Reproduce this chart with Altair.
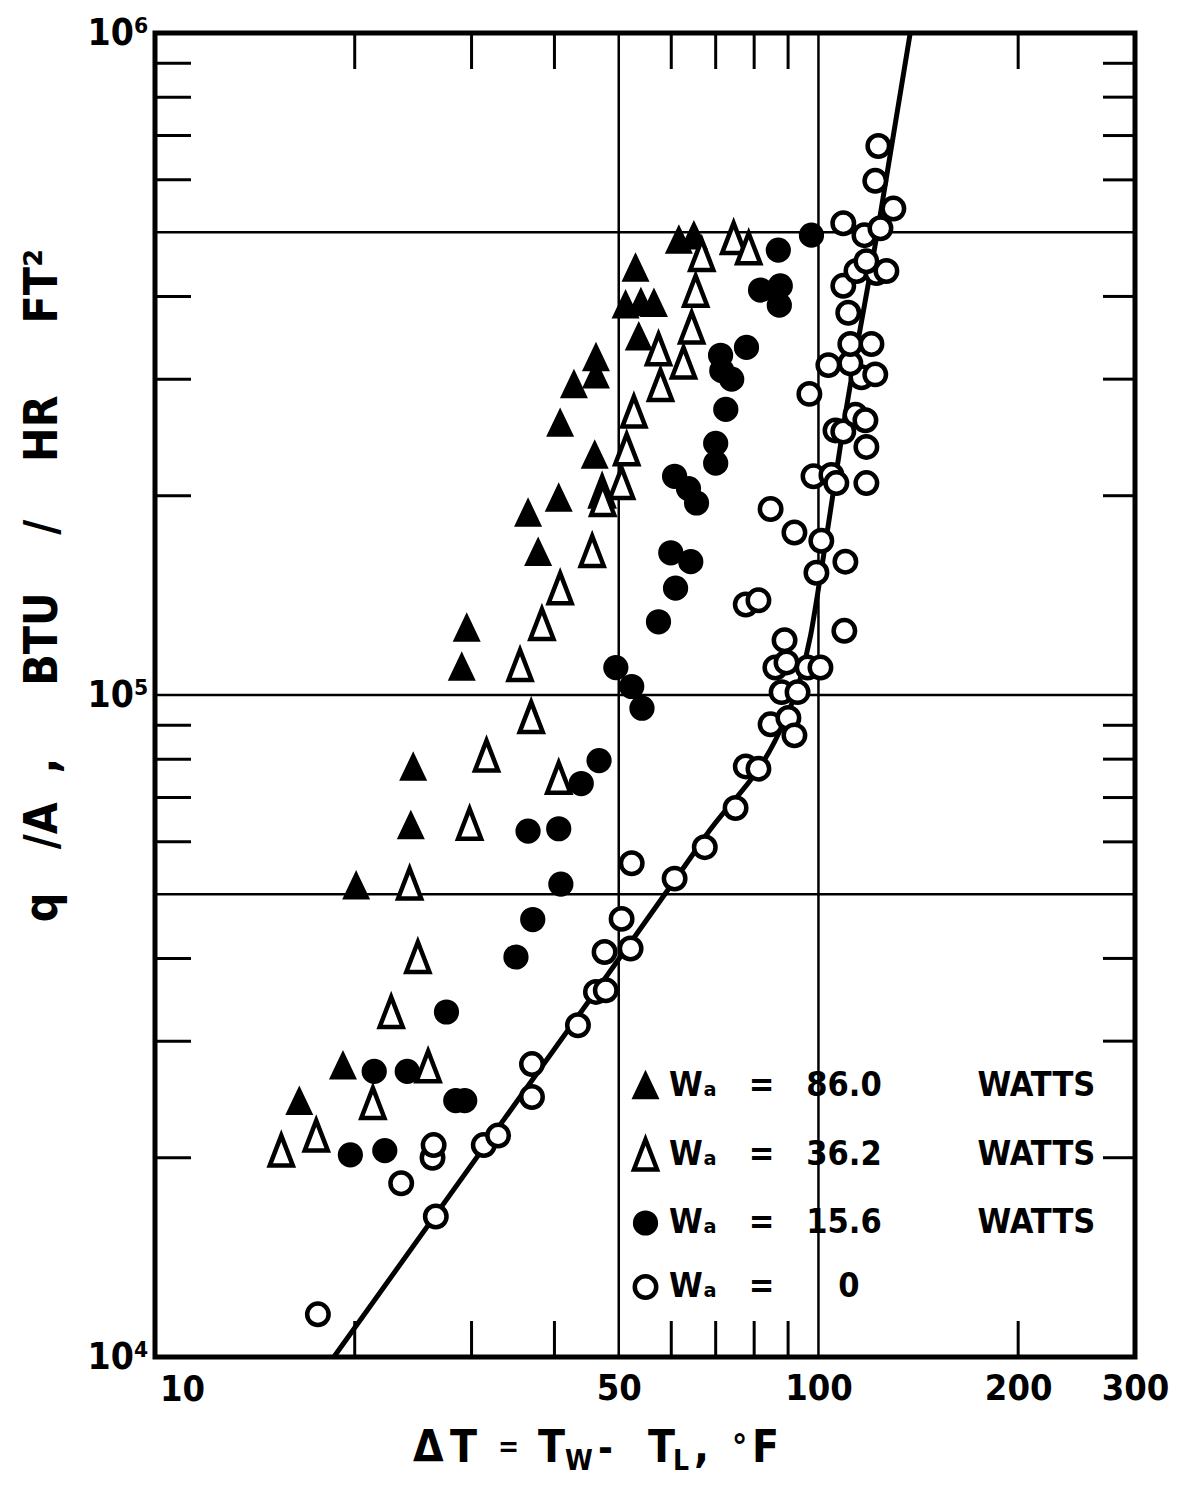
import altair as alt
import pandas as pd

# ---------------- data ----------------
# W_A = 86.0 W  (filled triangles)
dt_86 = [16.5, 19.2, 20.1, 24.3, 24.5, 29.0, 29.5, 36.5, 37.8, 40.6, 40.8, 42.8, 46.2, 46.2,
         46.0, 53.0, 51.2, 54.0, 56.5, 53.6, 61.6, 64.9]
q_86 = [24300, 27500, 51400, 63400, 77700, 110000, 126000, 188000, 164000, 198000, 257000,
        294000, 323000, 304000, 230000, 441000, 388000, 391000, 390000, 347000, 486000, 493000]
# W_A = 36.2 W  (open triangles)
dt_36 = [15.5, 17.5, 21.3, 25.8, 22.7, 24.9, 24.2, 29.8, 31.6, 40.6, 36.9, 35.5, 38.3, 40.8,
         45.6, 47.2, 47.3, 50.5, 51.4, 52.7, 57.8, 57.4, 62.6, 64.4, 65.3, 66.7, 74.5, 78.5]
q_36 = [20500, 21600, 24200, 27500, 33200, 40200, 51900, 63900, 81000, 75000, 92600, 111000,
        128000, 145000, 165000, 203000, 197000, 209000, 235000, 268000, 294000, 333000, 318000,
        359000, 408000, 462000, 490000, 473000]
# W_A = 15.6 W  (filled circles)
dt_15 = [19.7, 22.2, 21.4, 24.0, 28.4, 29.3, 27.5, 35.0, 37.1, 40.9, 36.5, 40.6, 43.9, 46.7,
         49.5, 52.3, 54.2, 57.4, 60.9, 59.9, 64.2, 60.7, 63.7, 65.5, 70.0, 70.0, 72.5, 71.2,
         71.5, 74.0, 77.9, 81.8, 87.6, 87.3, 87.0, 97.6]
q_15 = [20200, 20500, 27000, 27000, 24400, 24400, 33200, 40200, 45800, 51800, 62300, 62800,
        73500, 79600, 110000, 103000, 95500, 129000, 145000, 164000, 159000, 214000, 205000,
        195000, 240000, 224000, 270000, 326000, 309000, 300000, 335000, 409000, 415000, 388000,
        470000, 495000]
# W_A = 0  (open circles)
dt_0 = [17.6, 26.5, 23.5, 26.2, 26.3, 31.3, 32.9, 37.0, 37.0, 43.4, 46.2, 47.8, 47.6, 52.1,
        50.5, 52.3, 60.7, 67.4, 75.0, 77.7, 81.2, 84.7, 90.1, 92.0, 88.0, 93.0, 86.1, 89.5,
        96.3, 100.7, 88.9, 109.4, 77.7, 81.2, 99.3, 109.8, 101.0, 92.0, 84.7, 98.3, 104.6,
        106.4, 118.1, 118.1, 106.1, 109.0, 113.7, 117.7, 96.9, 116.1, 121.8, 103.5, 111.7,
        111.7, 120.2, 110.9, 109.0, 114.1, 122.3, 126.6, 118.1, 117.3, 124.0, 109.0, 129.7,
        121.8, 123.1]
q_0 = [11600, 16300, 18300, 20000, 20900, 20900, 21600, 24700, 27700, 31700, 35600, 35800,
       40900, 41400, 45900, 55700, 52800, 58900, 67500, 78000, 77400, 90300, 92300, 86900,
       101000, 101000, 110000, 112000, 110000, 110000, 121000, 125000, 137000, 139000, 153000,
       159000, 171000, 176000, 191000, 214000, 215000, 209000, 209000, 237000, 251000, 250000,
       265000, 260000, 285000, 302000, 305000, 315000, 317000, 339000, 339000, 378000, 415000,
       437000, 434000, 437000, 452000, 495000, 507000, 516000, 543000, 598000, 675000]
# curve drawn through the W_A = 0 data
line_dt = [18.6, 45.5, 67.6, 89.2, 93.3, 97.3, 100.7, 109.0, 123.1, 137.5]
line_q = [10000, 34950, 61240, 92270, 103500, 123000, 151300, 254000, 510000, 1000000]

x_label_vals = [50, 100, 200, 300]   # "10" at the corner is written separately below
y_label_vals = [1e4, 1e5, 1e6]
x_minor = [20, 30, 40, 60, 70, 80, 90, 200]
y_minor = [2e4, 3e4, 4e4, 6e4, 7e4, 8e4, 9e4, 2e5, 3e5, 4e5, 6e5, 7e5, 8e5, 9e5]
x_grid = [50, 100]
y_grid = [5e4, 1e5, 5e5]

NB = "\u00a0"
SUB_A = "\u2090"
series_names = [
    "W" + SUB_A + NB * 3 + "=" + NB * 3 + "86.0" + NB * 9 + "WATTS",
    "W" + SUB_A + NB * 3 + "=" + NB * 3 + "36.2" + NB * 9 + "WATTS",
    "W" + SUB_A + NB * 3 + "=" + NB * 3 + "15.6" + NB * 9 + "WATTS",
    "W" + SUB_A + NB * 3 + "=" + NB * 6 + "0",
]

# ---------------- build tables ----------------
frames = []
for name, xs, ys in zip(series_names, [dt_86, dt_36, dt_15, dt_0], [q_86, q_36, q_15, q_0]):
    frames.append(pd.DataFrame({"dt": xs, "q": ys, "series": name}))
pts_df = pd.concat(frames, ignore_index=True)
line_df = pd.DataFrame({"dt": line_dt, "q": line_q})

# ---------------- styling ----------------
F = "DejaVu Sans Condensed, DejaVu Sans"
W, H = 980, 1324
TICK = 36
xscale = alt.Scale(type="log", domain=[10, 300], nice=False)
yscale = alt.Scale(type="log", domain=[1e4, 1e6], nice=False)

tri_filled = "M0,-1L0.95,1L-0.95,1Z"
tri_open = "M0,-1L0.77,1L-0.77,1Z"
shapes = [tri_filled, tri_open, "circle", "circle"]
fills = ["black", "white", "black", "white"]
strokes = ["black", "black", "black", "black"]
sizes = [484, 900, 430, 460]

leg = alt.Legend(
    title=None, orient="none", legendX=473, legendY=1036, padding=0,
    labelFont=F, labelFontSize=34, labelFontWeight="bold", labelColor="black",
    labelLimit=800, labelOffset=6, rowPadding=24,
    symbolStrokeColor="black", symbolStrokeWidth=4.5, symbolOpacity=1,
)

xaxis = alt.Axis(
    values=x_label_vals, title=None, grid=False, ticks=False, domain=False,
    labelFont=F, labelFontSize=36, labelFontWeight="bold", labelColor="black",
    labelPadding=14, labelFlush=False, labelOverlap=False,
    labelExpr="'' + datum.value",
)
ytitle = ("q" + NB * 3 + "/A" + NB * 2 + "," + NB * 5 + "BTU" + NB * 4 + "/" + NB * 4 + "HR"
          + NB * 5 + "FT\u00b2")
yaxis = alt.Axis(
    values=y_label_vals, grid=False, ticks=False, domain=False,
    labelFont=F, labelFontSize=37, labelFontWeight="bold", labelColor="black",
    labelPadding=7, labelOverlap=False,
    labelExpr="datum.value >= 999999 ? '10\u2076' : (datum.value >= 99999 ? '10\u2075' : '10\u2074')",
    title=ytitle, titleFont=F, titleFontSize=46, titleFontWeight="bold", titleColor="black",
    titleAngle=270, titleX=-113, titleY=552, titleAlign="center", titleBaseline="middle",
)

points = alt.Chart(pts_df).mark_point(
    strokeWidth=4.5, opacity=1, fillOpacity=1, strokeOpacity=1
).encode(
    x=alt.X("dt:Q", scale=xscale, axis=xaxis),
    y=alt.Y("q:Q", scale=yscale, axis=yaxis),
    shape=alt.Shape("series:N", scale=alt.Scale(domain=series_names, range=shapes), legend=leg),
    fill=alt.Fill("series:N", scale=alt.Scale(domain=series_names, range=fills), legend=leg),
    stroke=alt.Stroke("series:N", scale=alt.Scale(domain=series_names, range=strokes), legend=leg),
    size=alt.Size("series:N", scale=alt.Scale(type="ordinal", domain=series_names, range=sizes),
                  legend=leg),
)

curve = alt.Chart(line_df).mark_line(color="black", strokeWidth=5, interpolate="monotone").encode(
    x=alt.X("dt:Q", scale=xscale, axis=xaxis),
    y=alt.Y("q:Q", scale=yscale, axis=yaxis),
)

xg = alt.Chart(pd.DataFrame({"v": x_grid})).mark_rule(color="black", strokeWidth=2.5).encode(
    x=alt.X("v:Q", scale=xscale, axis=xaxis))
yg = alt.Chart(pd.DataFrame({"v": y_grid})).mark_rule(color="black", strokeWidth=2.5).encode(
    y=alt.Y("v:Q", scale=yscale, axis=yaxis))

xm = pd.DataFrame({"v": x_minor})
ym = pd.DataFrame({"v": y_minor})
tb = alt.Chart(xm).mark_rule(color="black", strokeWidth=3).encode(
    x=alt.X("v:Q", scale=xscale, axis=xaxis), y=alt.value(H), y2=alt.value(H - TICK))
tt = alt.Chart(xm).mark_rule(color="black", strokeWidth=3).encode(
    x=alt.X("v:Q", scale=xscale, axis=xaxis), y=alt.value(0), y2=alt.value(TICK))
tl = alt.Chart(ym).mark_rule(color="black", strokeWidth=3).encode(
    y=alt.Y("v:Q", scale=yscale, axis=yaxis), x=alt.value(0), x2=alt.value(TICK))
tr = alt.Chart(ym).mark_rule(color="black", strokeWidth=3).encode(
    y=alt.Y("v:Q", scale=yscale, axis=yaxis), x=alt.value(W), x2=alt.value(W - TICK + 4))

one = pd.DataFrame({"k": [0]})


def piece(txt, sx, sy, size):
    # text fragment placed at a screen position (converted to plot coordinates)
    return alt.Chart(one).mark_text(
        text=txt, font=F, fontSize=size, fontWeight="bold", align="left",
        baseline="alphabetic", color="black"
    ).encode(x=alt.value(sx - 155), y=alt.value(sy - 33))


text_parts = [
    piece("10", 160, 1401, 36),          # first x-axis label, set flush at the corner
    piece("\u0394", 413, 1462, 44),
    piece("T", 450, 1462, 44),
    piece("=", 498, 1456, 28),
    piece("T", 538, 1462, 44),
    piece("W", 565, 1470, 28),
    piece("-", 598, 1462, 40),
    piece("T", 648, 1462, 44),
    piece("L", 673, 1470, 28),
    piece(",", 694, 1462, 44),
    piece("\u00b0", 732, 1458, 34),
    piece("F", 752, 1462, 44),
]

chart = alt.layer(xg, yg, tb, tt, tl, tr, curve, points, *text_parts).properties(
    width=W, height=H,
    padding={"left": 147, "top": 25, "right": 40, "bottom": 122},
    autosize=alt.AutoSizeParams(type="none"),
).configure_view(stroke="black", strokeWidth=5)

chart.save("out.html", embed_options={"renderer": "svg", "actions": False})
